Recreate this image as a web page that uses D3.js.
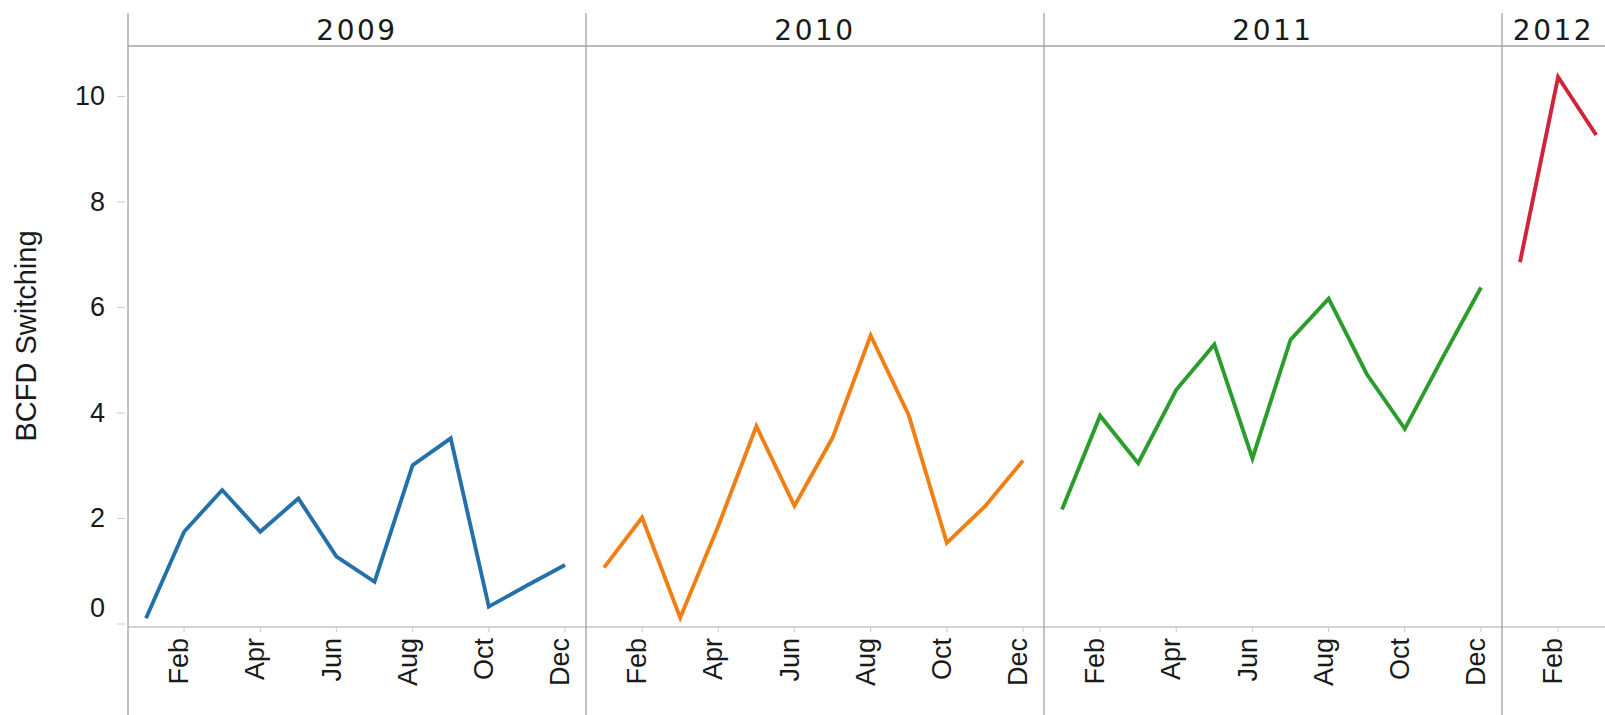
<!DOCTYPE html>
<html>
<head>
<meta charset="utf-8">
<script src="https://cdn.jsdelivr.net/npm/d3@7"></script>
<style>
  html, body { margin: 0; padding: 0; background: #fff; }
  svg { display: block; }
</style>
</head>
<body>
<svg id="chart" width="1605" height="715"></svg>
<script>
// ---- data ----
const years = ["2009", "2010", "2011", "2012"];
const monthLabels = ["Jan","Feb","Mar","Apr","May","Jun","Jul","Aug","Sep","Oct","Nov","Dec"];
const tickMonths = ["Feb","Apr","Jun","Aug","Oct","Dec"];
const values2009 = [0.10, 1.74, 2.53, 1.74, 2.37, 1.27, 0.79, 3.00, 3.51, 0.32, 0.72, 1.11];
const values2010 = [1.06, 2.01, 0.11, 1.85, 3.74, 2.23, 3.52, 5.46, 3.95, 1.53, 2.22, 3.09];
const values2011 = [2.16, 3.94, 3.04, 4.43, 5.29, 3.13, 5.38, 6.16, 4.73, 3.69, 5.05, 6.37];
const values2012 = [6.85, 10.36, 9.26];
const yTicks = [0, 2, 4, 6, 8, 10];
const yTitle = "BCFD Switching";
const colors = ["#2471aa", "#f07f16", "#2c9c2c", "#d0243a"];

const seriesByYear = [values2009, values2010, values2011, values2012];

// ---- layout ----
const W = 1605, H = 715;
const plotLeft = 128, panelW = 458;
const headerY = 46, baseY = 627, lineTop = 13;

const svg = d3.select("#chart");

const y = d3.scaleLinear().domain([0, 10]).range([623.5, 96]);
const xm = d3.scaleLinear().domain([0, 11]).range([18, 437]); // month index within panel

// header line and baseline
svg.append("line")
  .attr("x1", plotLeft).attr("x2", W)
  .attr("y1", headerY).attr("y2", headerY)
  .attr("stroke", "#a3a3a3").attr("stroke-width", 1.3);
svg.append("line")
  .attr("x1", plotLeft).attr("x2", W)
  .attr("y1", baseY).attr("y2", baseY)
  .attr("stroke", "#c4c4c4").attr("stroke-width", 1.3);

// y axis
const yAxis = svg.append("g")
  .attr("transform", `translate(${plotLeft - 3},0)`)
  .call(d3.axisLeft(y).tickValues(yTicks).tickSize(8).tickPadding(12).tickFormat(d3.format("d")));
yAxis.select(".domain").remove();
yAxis.selectAll(".tick line").attr("stroke", "#d0d0d0").attr("stroke-width", 1.2);
yAxis.selectAll(".tick text")
  .attr("font-family", "'Liberation Sans', Arial, sans-serif")
  .attr("font-size", 27)
  .attr("fill", "#1a1a1a");
yAxis.selectAll(".tick").filter(d => d === 0).select("text").attr("y", -16);

// y title
svg.append("text")
  .attr("transform", `translate(36,336) rotate(-90)`)
  .attr("text-anchor", "middle")
  .attr("font-family", "'Liberation Sans', Arial, sans-serif")
  .attr("font-size", 29)
  .attr("fill", "#1a1a1a")
  .text(yTitle);

// panels
years.forEach((yr, i) => {
  const left = plotLeft + i * panelW;
  const g = svg.append("g").attr("transform", `translate(${left},0)`);

  // year header, centred on visible part of panel
  const visRight = Math.min(left + panelW, W);
  svg.append("text")
    .attr("x", (left + visRight) / 2)
    .attr("y", 40)
    .attr("text-anchor", "middle")
    .attr("font-family", "'DejaVu Sans', Verdana, sans-serif")
    .attr("font-size", 28)
    .attr("letter-spacing", "2.5px")
    .attr("fill", "#1a1a1a")
    .text(yr);

  // month axis (only ticks that fall inside the visible canvas)
  const monthIdx = tickMonths.map(m => monthLabels.indexOf(m))
    .filter(d => left + xm(d) + 20 < W);
  const ax = g.append("g").attr("transform", `translate(0,${baseY})`);
  const ticks = ax.selectAll("g.mt").data(monthIdx).join("g")
    .attr("class", "mt")
    .attr("transform", d => `translate(${xm(d)},0)`);
  ticks.append("line").attr("y1", 0).attr("y2", 5).attr("stroke", "#d0d0d0").attr("stroke-width", 1.2);
  ticks.append("text")
    .attr("transform", "translate(0,11) rotate(-90)")
    .attr("dy", "0.15em")
    .attr("text-anchor", "end")
    .attr("font-family", "'Liberation Sans', Arial, sans-serif")
    .attr("font-size", 27)
    .attr("fill", "#1a1a1a")
    .text((d) => monthLabels[d]);

  // line
  const vals = seriesByYear[i];
  const line = d3.line().x((d, k) => xm(k)).y(d => y(d));
  g.append("path")
    .datum(vals)
    .attr("d", line)
    .attr("fill", "none")
    .attr("stroke", colors[i])
    .attr("stroke-width", 3.9)
    .attr("stroke-linejoin", "miter")
    .attr("stroke-linecap", "butt");
});

// panel separators (left axis line + between panels)
d3.range(years.length).forEach(i => {
  const x = plotLeft + i * panelW;
  svg.append("line")
    .attr("x1", x).attr("x2", x)
    .attr("y1", lineTop).attr("y2", H)
    .attr("stroke", "#a3a3a3").attr("stroke-width", 1.3);
});
</script>
</body>
</html>
